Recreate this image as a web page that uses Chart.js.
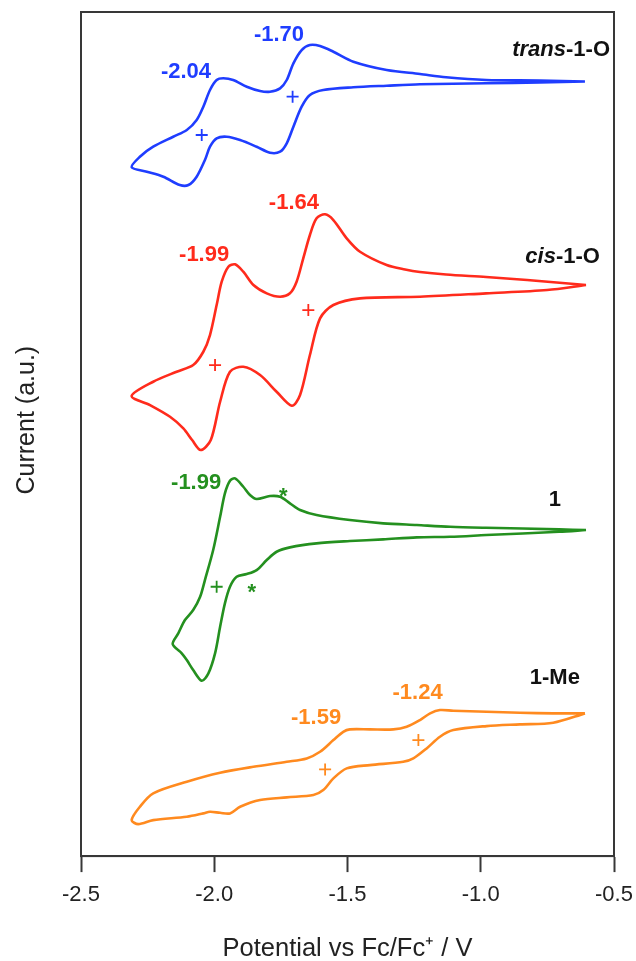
<!DOCTYPE html>
<html>
<head>
<meta charset="utf-8">
<script src="https://cdn.jsdelivr.net/npm/chart.js@4.4.1/dist/chart.umd.min.js"></script>
<style>
  html, body { margin: 0; padding: 0; background: #fff; }
  #cv { display: block; }
</style>
</head>
<body>
<canvas id="cv" width="636" height="961"></canvas>
<script>
// Cyclic voltammograms, potential in V vs Fc/Fc+, current in a.u. (traces offset vertically)
// each trace goes round the loop starting at the switching point near -0.6 V

const transPotential = [-0.609, -0.778, -0.980, -1.130, -1.228, -1.353, -1.478, -1.553, -1.603, -1.641, -1.672, -1.703, -1.728, -1.753, -1.791, -1.828, -1.878, -1.929, -1.966, -1.991, -2.016, -2.041, -2.066, -2.103, -2.154, -2.229, -2.279, -2.310, -2.253, -2.191, -2.129, -2.097, -2.066, -2.035, -2.016, -1.991, -1.953, -1.903, -1.841, -1.791, -1.753, -1.728, -1.703, -1.672, -1.641, -1.591, -1.478, -1.353, -1.228, -0.980, -0.778, -0.609];
const transCurrent = [774.5, 775.5, 776, 778.7, 782, 786, 794.3, 804.3, 810, 811, 806, 792.7, 776, 767.7, 764.3, 765, 769.3, 776, 777.7, 776, 766, 749.3, 736, 726, 719.3, 709.3, 699.3, 688.7, 684.3, 679.3, 671, 671, 679.3, 696, 709.3, 717.7, 719.3, 716, 709.3, 703.3, 704.3, 712.7, 729.3, 749.3, 761, 766, 768.7, 770.3, 771.7, 772.7, 773.5, 774.5];

const cisPotential = [-0.605, -0.826, -0.980, -1.130, -1.228, -1.284, -1.353, -1.453, -1.503, -1.553, -1.584, -1.616, -1.641, -1.666, -1.691, -1.716, -1.753, -1.803, -1.853, -1.891, -1.922, -1.947, -1.972, -1.991, -2.016, -2.041, -2.079, -2.141, -2.229, -2.310, -2.241, -2.166, -2.116, -2.083, -2.051, -2.013, -1.978, -1.941, -1.891, -1.828, -1.766, -1.709, -1.678, -1.641, -1.603, -1.553, -1.453, -1.228, -0.980, -0.751, -0.605];
const cisCurrent = [571, 576, 579, 581.5, 584, 586.5, 591, 604.3, 617.7, 636, 641.7, 637.7, 621, 597.7, 574.3, 562.7, 559.3, 562.7, 571, 584.3, 591.7, 589.3, 574.3, 551, 521, 504.3, 491, 484.3, 474.3, 460, 451, 439.3, 427.7, 416, 406, 416, 454.3, 484.3, 489.3, 481, 464.3, 450.3, 461, 501, 537.7, 551, 557.7, 559.3, 562.7, 566, 571];

const onePotential = [-0.605, -0.706, -0.980, -1.115, -1.240, -1.366, -1.491, -1.616, -1.678, -1.716, -1.753, -1.791, -1.841, -1.866, -1.891, -1.922, -1.941, -1.960, -1.978, -2.004, -2.035, -2.053, -2.079, -2.110, -2.135, -2.156, -2.122, -2.103, -2.079, -2.047, -2.022, -1.997, -1.978, -1.960, -1.941, -1.916, -1.878, -1.841, -1.803, -1.766, -1.716, -1.616, -1.491, -1.366, -1.240, -1.115, -0.980, -0.706, -0.605];
const oneCurrent = [326, 326.7, 328.3, 329.3, 331, 332.7, 336, 341, 346, 352.7, 359.3, 360, 357, 361, 369.3, 377.7, 375.3, 362.7, 339.3, 306, 276, 259.3, 246, 236, 222.7, 212, 202.7, 196, 186, 175.3, 182.7, 202.7, 229.3, 252.7, 269.3, 279.3, 282, 286, 296, 304.3, 308.7, 312.7, 315, 316.7, 318.7, 319.3, 321, 324.3, 326];

const mePotential = [-0.609, -0.728, -0.853, -0.978, -1.103, -1.153, -1.190, -1.228, -1.278, -1.328, -1.416, -1.491, -1.516, -1.553, -1.603, -1.653, -1.728, -1.853, -1.978, -2.103, -2.229, -2.279, -2.310, -2.285, -2.229, -2.103, -2.041, -2.016, -1.978, -1.941, -1.903, -1.828, -1.728, -1.628, -1.591, -1.553, -1.503, -1.416, -1.291, -1.253, -1.203, -1.153, -1.103, -0.978, -0.853, -0.728, -0.609];
const meCurrent = [142.7, 142.7, 143.3, 144.3, 145.3, 146, 142.7, 136, 129.3, 126.7, 126.7, 126.7, 124.3, 116, 104.3, 97.7, 94.3, 89.3, 83.3, 74.3, 62.7, 49.3, 36, 32, 36, 39.3, 42.7, 44.3, 43.3, 42.7, 49.3, 56, 58.7, 61, 66, 77.7, 87.7, 91, 94.3, 97.7, 107.7, 119.3, 126, 130, 131.7, 133.3, 142.7];

// half-wave potentials (the "+" marks)
const transHalfV = [-1.706, -2.047];
const transHalfI = [759.3, 721];
const cisHalfV = [-1.647, -1.997];
const cisHalfI = [546, 491];
const oneHalfV = [-1.991];
const oneHalfI = [269.3];
const meHalfV = [-1.584, -1.234];
const meHalfI = [86.7, 116];

// peak labels
const peakText = ["-1.70", "-2.04", "-1.64", "-1.99", "-1.99", "-1.59", "-1.24"];
const peakV = [-1.757, -2.106, -1.701, -2.038, -2.068, -1.618, -1.237];
const peakI = [821, 784, 653, 601, 373, 138, 163.5];
const peakTrace = [0, 0, 1, 1, 2, 3, 3];

// side waves of 1 (asterisks)
const starV = [-1.741, -1.859];
const starI = [364.3, 267.7];

// compound names (right edge position)
const nameItalic = ["trans", "cis", "", ""];
const nameRest = ["-1-O", "-1-O", "1", "1-Me"];
const nameV = [-0.515, -0.553, -0.699, -0.628];
const nameI = [806, 599, 356, 178];

const xTicks = [-2.5, -2.0, -1.5, -1.0, -0.5];

const colors = ["#1f3dff", "#ff2b1c", "#24901f", "#ff8a1f"];
const FONT = '"Liberation Sans", Arial, sans-serif';
const LABEL_SIZE = 22;

function pts(xs, ys) {
  return xs.map((v, i) => ({ x: v, y: ys[i] }));
}

const traces = [
  pts(transPotential, transCurrent),
  pts(cisPotential, cisCurrent),
  pts(onePotential, oneCurrent),
  pts(mePotential, meCurrent)
];
const halfMarks = [
  pts(transHalfV, transHalfI),
  pts(cisHalfV, cisHalfI),
  pts(oneHalfV, oneHalfI),
  pts(meHalfV, meHalfI)
];

const datasets = [];
traces.forEach((d, i) => {
  datasets.push({
    data: d,
    showLine: true,
    borderColor: colors[i],
    borderWidth: 2.6,
    pointRadius: 0,
    tension: 0.3,
    fill: false
  });
});
halfMarks.forEach((d, i) => {
  datasets.push({
    data: d,
    showLine: false,
    pointStyle: "cross",
    pointRadius: 6,
    borderColor: colors[i],
    borderWidth: 1.8
  });
});

// labels drawn at data positions
const annotate = {
  id: "annotate",
  afterDatasetsDraw(chart) {
    const { ctx, scales: { x, y } } = chart;
    const bold = "bold " + LABEL_SIZE + "px " + FONT;
    const boldItalic = "italic bold " + LABEL_SIZE + "px " + FONT;
    ctx.save();
    ctx.textBaseline = "middle";

    ctx.font = bold;
    ctx.textAlign = "center";
    peakText.forEach((t, i) => {
      ctx.fillStyle = colors[peakTrace[i]];
      ctx.fillText(t, x.getPixelForValue(peakV[i]), y.getPixelForValue(peakI[i]));
    });

    ctx.fillStyle = colors[2];
    starV.forEach((v, i) => {
      ctx.fillText("*", x.getPixelForValue(v), y.getPixelForValue(starI[i]) + 5);
    });

    ctx.fillStyle = "#111";
    ctx.textAlign = "left";
    nameRest.forEach((rest, i) => {
      const right = x.getPixelForValue(nameV[i]);
      const py = y.getPixelForValue(nameI[i]);
      ctx.font = boldItalic;
      const w1 = nameItalic[i] ? ctx.measureText(nameItalic[i]).width : 0;
      ctx.font = bold;
      const w2 = ctx.measureText(rest).width;
      let px = right - w1 - w2;
      if (nameItalic[i]) {
        ctx.font = boldItalic;
        ctx.fillText(nameItalic[i], px, py);
        px += w1;
        ctx.font = bold;
      }
      ctx.fillText(rest, px, py);
    });
    ctx.restore();
  },
  afterDraw(chart) {
    const { ctx, chartArea: a } = chart;
    ctx.save();
    ctx.strokeStyle = "#383838";
    ctx.lineWidth = 2;
    ctx.strokeRect(a.left, a.top, a.right - a.left, a.bottom - a.top);
    ctx.restore();
  }
};

new Chart(document.getElementById("cv"), {
  type: "scatter",
  data: { datasets: datasets },
  plugins: [annotate],
  options: {
    responsive: false,
    animation: false,
    layout: { padding: { top: 12, right: 22, left: 0, bottom: 0 } },
    plugins: { legend: { display: false }, tooltip: { enabled: false } },
    scales: {
      x: {
        type: "linear",
        min: -2.5,
        max: -0.5,
        afterBuildTicks: (axis) => { axis.ticks = xTicks.map(v => ({ value: v })); },
        afterFit: (axis) => { axis.paddingLeft = 0; axis.paddingRight = 0; },
        ticks: {
          padding: 10,
          color: "#222",
          font: { family: FONT, size: 22 },
          callback: (v) => v.toFixed(1)
        },
        grid: { drawOnChartArea: false, drawTicks: true, tickLength: 16, tickWidth: 2, tickColor: "#383838" },
        border: { color: "#383838", width: 2 },
        title: {
          display: true,
          text: "Potential vs Fc/Fc\u207A / V",
          color: "#222",
          font: { family: FONT, size: 25.5, lineHeight: 1 },
          padding: { top: 18, bottom: -1 }
        }
      },
      y: {
        type: "linear",
        min: 0,
        max: 844,
        ticks: { display: false },
        grid: { display: false, drawTicks: false },
        border: { color: "#383838", width: 2 },
        title: {
          display: true,
          text: "    Current (a.u.)",
          color: "#222",
          font: { family: FONT, size: 25, lineHeight: 1.2 },
          padding: { top: 12, bottom: 39 }
        }
      }
    }
  }
});
</script>
</body>
</html>
